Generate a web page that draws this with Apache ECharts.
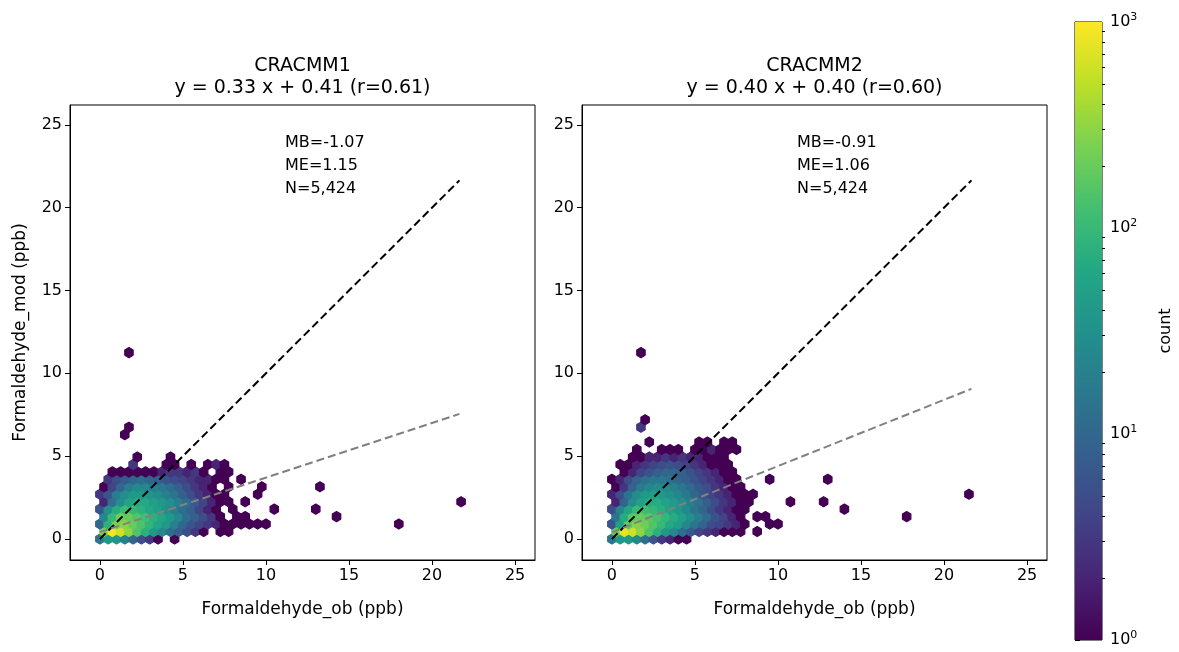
<!DOCTYPE html>
<html>
<head>
<meta charset="utf-8">
<script src="https://cdn.jsdelivr.net/npm/echarts@6/dist/echarts.min.js"></script>
<style>
html, body { margin: 0; padding: 0; background: #fff; }
#chart { width: 1179px; height: 652px; }
</style>
</head>
<body>
<div id="chart"></div>
<script>
// hex lattice used by the hexbin: columns 0.5 apart, rows 0.45 apart (odd rows shifted by 0.25)
const hexW = 0.5
const hexH = 0.9
const rowStep = 0.45

// [row index, x of first cell, counts along the row (0 = no hex)]
const cracmm1Rows = [
    [0, 0, [15, 40, 35, 20, 10, 5, 3, 1, 0, 1]],
    [1, 0.25, [250, 900, 600, 300, 150, 80, 40, 25, 12, 8, 5, 3, 1, 0, 1, 1]],
    [2, 0, [10, 80, 250, 300, 200, 140, 90, 60, 40, 20, 10, 6, 4, 3, 2, 1, 1, 1, 1, 1, 1]],
    [3, 0.25, [25, 100, 220, 200, 150, 120, 80, 60, 40, 25, 12, 8, 5, 3, 1, 0, 1, 1]],
    [4, 0, [6, 30, 70, 110, 100, 80, 60, 45, 30, 20, 12, 8, 4, 2, 1, 0, 1, 0, 0, 0, 0, 1]],
    [5, 0.25, [2, 12, 30, 55, 70, 65, 50, 40, 30, 20, 12, 7, 4, 2, 1, 1, 0, 1]],
    [6, 0, [3, 6, 18, 30, 40, 40, 35, 28, 20, 14, 8, 5, 3, 2, 1, 1, 0, 0, 0, 1]],
    [7, 0.25, [1, 4, 10, 18, 25, 25, 20, 16, 12, 8, 5, 3, 2, 1, 0, 1, 0, 0, 0, 1]],
    [8, 0, [0, 3, 5, 7, 10, 12, 10, 8, 6, 5, 4, 3, 2, 2, 1, 1, 0, 1]],
    [9, 0.25, [0, 1, 1, 1, 1, 1, 1, 2, 3, 3, 2, 3, 1, 0, 1, 1]],
    [10, 0, [0, 0, 0, 0, 3, 0, 0, 0, 1, 1, 0, 1, 0, 1, 2, 1]],
    [11, 0.25, [0, 0, 0, 0, 1, 0, 0, 0, 1]],
    [14, 1.5, [1]],
    [15, 1.75, [1]],
    [25, 1.75, [1]],
    [2, 18.0, [1]],
    [3, 14.25, [1]],
    [4, 13.0, [1]],
    [5, 21.75, [1]],
    [7, 13.25, [1]]
]

const cracmm2Rows = [
    [0, 0, [15, 40, 40, 25, 12, 6, 3, 2, 1, 1]],
    [1, 0.25, [200, 800, 600, 300, 150, 80, 40, 25, 12, 7, 4, 3, 2, 1, 1, 1, 0, 1]],
    [2, 0, [6, 50, 180, 280, 220, 150, 100, 65, 45, 25, 15, 9, 5, 4, 3, 2, 1, 0, 0, 1, 1]],
    [3, 0.25, [15, 70, 170, 200, 170, 130, 95, 70, 50, 30, 18, 11, 6, 4, 2, 1, 0, 1, 1]],
    [4, 0, [5, 22, 55, 100, 110, 95, 75, 55, 38, 25, 15, 9, 5, 3, 2, 1, 1]],
    [5, 0.25, [2, 9, 28, 50, 70, 70, 55, 42, 30, 20, 13, 8, 5, 3, 2, 1, 1]],
    [6, 0, [2, 5, 14, 28, 40, 45, 40, 32, 24, 16, 10, 6, 4, 3, 2, 1, 1, 1]],
    [7, 0.25, [1, 3, 9, 17, 24, 28, 25, 20, 16, 11, 7, 5, 3, 2, 1, 1]],
    [8, 0, [1, 2, 5, 9, 13, 16, 16, 13, 10, 8, 6, 4, 3, 2, 1, 1, 0, 0, 0, 1]],
    [9, 0.25, [0, 1, 2, 4, 6, 8, 10, 10, 8, 6, 4, 3, 2, 1, 1]],
    [10, 0, [0, 1, 1, 2, 3, 4, 5, 6, 5, 4, 3, 2, 1, 1, 1]],
    [11, 0.25, [0, 0, 1, 1, 2, 2, 3, 2, 3, 2, 2, 1, 1, 1]],
    [12, 0, [0, 0, 0, 1, 0, 0, 1, 1, 1, 0, 1, 1, 2, 1, 1, 1]],
    [13, 0.25, [0, 0, 0, 0, 1, 0, 0, 0, 0, 0, 1, 1, 0, 1, 1]],
    [15, 1.75, [3]],
    [16, 2.0, [1]],
    [25, 1.75, [1]],
    [3, 17.75, [1]],
    [4, 14.0, [1]],
    [5, 10.75, [1]],
    [5, 12.75, [1]],
    [6, 21.5, [1]],
    [8, 13.0, [1]]
]

const panelNames = ['CRACMM1', 'CRACMM2']
const fitTexts = ['y = 0.33 x + 0.41 (r=0.61)', 'y = 0.40 x + 0.40 (r=0.60)']
const statTexts = [['MB=-1.07', 'ME=1.15', 'N=5,424'], ['MB=-0.91', 'ME=1.06', 'N=5,424']]
const oneToOne = [[0, 0], [21.65, 21.65]]
const fitLine1 = [[0, 0.41], [21.65, 7.55]]
const fitLine2 = [[0, 0.40], [21.65, 9.06]]
const axisTicks = [0, 5, 10, 15, 20, 25]
const cbarTicks = [1, 10, 100, 1000]
const cbarMinor = [2, 3, 4, 5, 6, 7, 8, 9, 20, 30, 40, 50, 60, 70, 80, 90, 200, 300, 400, 500, 600, 700, 800, 900]

const viridis = ['#440154', '#482475', '#414487', '#355f8d', '#2a788e', '#21918c',
    '#22a884', '#44bf70', '#7ad151', '#bddf26', '#fde725']
const font = 'DejaVu Sans'

function hexToRgb(h) {
    return [parseInt(h.slice(1, 3), 16), parseInt(h.slice(3, 5), 16), parseInt(h.slice(5, 7), 16)]
}

// log colour scale 1..1000
function countColor(c) {
    let t = Math.log10(Math.max(c, 1)) / 3
    t = Math.min(1, Math.max(0, t)) * (viridis.length - 1)
    let i = Math.min(Math.floor(t), viridis.length - 2)
    let f = t - i
    let a = hexToRgb(viridis[i]), b = hexToRgb(viridis[i + 1])
    let rgb = a.map((v, k) => Math.round(v + (b[k] - v) * f))
    return 'rgb(' + rgb.join(',') + ')'
}

function toCells(rows) {
    let cells = []
    rows.forEach(r => {
        r[2].forEach((c, i) => {
            if (c > 0) cells.push([r[1] + i * hexW, r[0] * rowStep, c])
        })
    })
    return cells
}

function renderHex(params, api) {
    let p = api.coord([api.value(0), api.value(1)])
    let s = api.size([hexW, hexH])
    let hw = s[0] / 2, a = s[1] / 6, b = s[1] / 3
    let col = countColor(api.value(2))
    return {
        type: 'polygon',
        shape: {
            points: [[p[0] + hw, p[1] + a], [p[0] + hw, p[1] - a], [p[0], p[1] - b],
                [p[0] - hw, p[1] - a], [p[0] - hw, p[1] + a], [p[0], p[1] + b]]
        },
        style: { fill: col, stroke: col, lineWidth: 1.3, lineJoin: 'round' }
    }
}

function renderBar(params, api) {
    let top = api.coord([0, 1000])
    let bottom = api.coord([1, 1])
    let stops = viridis.map((c, i) => ({ offset: i / (viridis.length - 1), color: c }))
    return {
        type: 'rect',
        shape: { x: top[0], y: top[1], width: bottom[0] - top[0], height: bottom[1] - top[1] },
        style: { fill: new echarts.graphic.LinearGradient(0, 1, 0, 0, stops) }
    }
}

const panelLeft = [70, 582]
const panelWidth = 465

function xAxisFor(i) {
    return {
        type: 'value', gridIndex: i, min: -1.8, max: 26.2,
        name: 'Formaldehyde_ob (ppb)', nameLocation: 'middle', nameGap: 41,
        nameTextStyle: { color: '#000', fontSize: 17, fontFamily: font },
        axisLine: { show: true, onZero: false, lineStyle: { color: '#000', width: 1 } },
        axisTick: { show: true, length: 5, customValues: axisTicks, lineStyle: { color: '#000' } },
        axisLabel: { customValues: axisTicks, color: '#000', fontSize: 16, fontFamily: font, margin: 8 },
        splitLine: { show: false }
    }
}

function yAxisFor(i) {
    return {
        type: 'value', gridIndex: i, min: -1.27, max: 26.2,
        name: i === 0 ? 'Formaldehyde_mod (ppb)' : '', nameLocation: 'middle', nameGap: 41,
        nameTextStyle: { color: '#000', fontSize: 17, fontFamily: font },
        axisLine: { show: true, onZero: false, lineStyle: { color: '#000', width: 1 } },
        axisTick: { show: true, length: 5, customValues: axisTicks, lineStyle: { color: '#000' } },
        axisLabel: { customValues: axisTicks, color: '#000', fontSize: 16, fontFamily: font, margin: 8 },
        splitLine: { show: false }
    }
}

function dashed(data, color, xi) {
    return {
        type: 'line', xAxisIndex: xi, yAxisIndex: xi, data: data,
        symbol: 'none', silent: true, z: 5,
        lineStyle: { color: color, width: 2, type: [8, 4] }
    }
}

let graphics = []
panelNames.forEach((name, i) => {
    let cx = panelLeft[i] + panelWidth / 2
    graphics.push({ type: 'text', x: cx, y: 66, style: { text: name, fontSize: 19, fontFamily: font, fill: '#000', align: 'center', verticalAlign: 'middle' } })
    graphics.push({ type: 'text', x: cx, y: 88, style: { text: fitTexts[i], fontSize: 19, fontFamily: font, fill: '#000', align: 'center', verticalAlign: 'middle' } })
    graphics.push({ type: 'text', x: panelLeft[i] + 215, y: 166, style: { text: statTexts[i].join('\n'), fontSize: 16, lineHeight: 23, fontFamily: font, fill: '#000', align: 'left', verticalAlign: 'middle' } })
})

let chart = echarts.init(document.getElementById('chart'))
chart.setOption({
    animation: false,
    backgroundColor: '#fff',
    grid: [
        { left: panelLeft[0], top: 105, width: panelWidth, height: 455, show: true, borderColor: '#000', borderWidth: 1, backgroundColor: 'transparent' },
        { left: panelLeft[1], top: 105, width: panelWidth, height: 455, show: true, borderColor: '#000', borderWidth: 1, backgroundColor: 'transparent' },
        { left: 1075, top: 22, width: 27, height: 618, show: true, borderColor: '#000', borderWidth: 1, backgroundColor: 'transparent' }
    ],
    xAxis: [xAxisFor(0), xAxisFor(1), { type: 'value', gridIndex: 2, min: 0, max: 1, show: false }],
    yAxis: [yAxisFor(0), yAxisFor(1),
        {
            type: 'log', gridIndex: 2, min: 1, max: 1000, position: 'right',
            name: 'count', nameLocation: 'middle', nameGap: 56, nameRotate: 90,
            nameTextStyle: { color: '#000', fontSize: 16, fontFamily: font },
            axisLine: { show: false },
            axisTick: { show: true, length: 5, customValues: cbarTicks, lineStyle: { color: '#000' } },
            axisLabel: {
                customValues: cbarTicks, color: '#000', fontSize: 16, fontFamily: font, margin: 8,
                formatter: v => '10{s|' + Math.round(Math.log10(v)) + '}',
                rich: { s: { fontSize: 11, fontFamily: font, color: '#000', padding: [0, 0, 10, 0] } }
            },
            splitLine: { show: false }
        },
        {
            type: 'log', gridIndex: 2, min: 1, max: 1000, position: 'right',
            axisLine: { show: false },
            axisTick: { show: true, length: 3, customValues: cbarMinor, lineStyle: { color: '#000' } },
            axisLabel: { show: false },
            splitLine: { show: false }
        }
    ],
    series: [
        { type: 'custom', xAxisIndex: 0, yAxisIndex: 0, renderItem: renderHex, data: toCells(cracmm1Rows), silent: true, clip: true },
        { type: 'custom', xAxisIndex: 1, yAxisIndex: 1, renderItem: renderHex, data: toCells(cracmm2Rows), silent: true, clip: true },
        dashed(oneToOne, '#000', 0),
        dashed(fitLine1, '#808080', 0),
        dashed(oneToOne, '#000', 1),
        dashed(fitLine2, '#808080', 1),
        { type: 'custom', xAxisIndex: 2, yAxisIndex: 2, renderItem: renderBar, data: [[0, 1]], silent: true }
    ],
    graphic: graphics
})
</script>
</body>
</html>
